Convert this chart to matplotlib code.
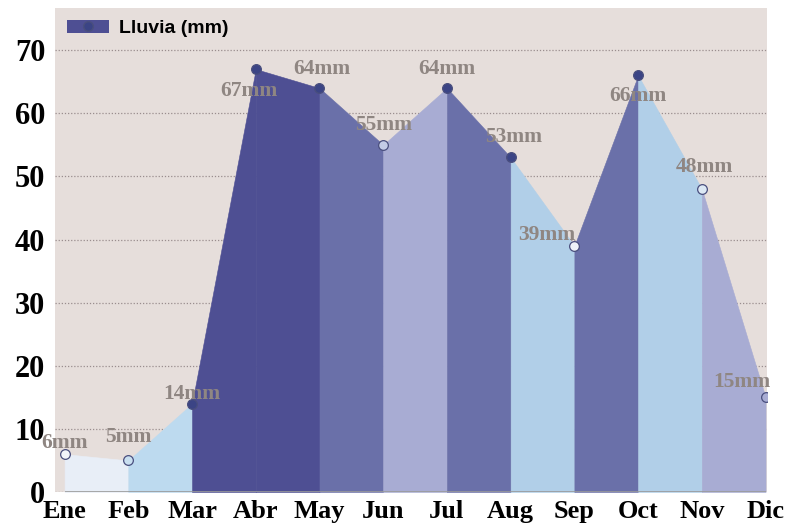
import matplotlib.pyplot as plt
from matplotlib.patches import Patch
from matplotlib.lines import Line2D

# Datos de lluvia mensual
meses = ["Ene", "Feb", "Mar", "Abr", "May", "Jun", "Jul", "Aug", "Sep", "Oct", "Nov", "Dic"]
lluvia = [6, 5, 14, 67, 64, 55, 64, 53, 39, 66, 48, 15]
etiquetas = [f"{v}mm" for v in lluvia]

# Colores de cada tramo (entre un mes y el siguiente)
c_osc = "#4e4f93"
c_med = "#6a70a9"
c_lav = "#a8acd3"
c_cel = "#b1cfe8"
colores_tramo = ["#e8eef7", "#bddaef", c_osc, c_osc, c_med, c_lav,
                 c_med, c_cel, c_med, c_cel, c_lav]
# Relleno de los marcadores
colores_punto = ["#f2f4fa", "#c9dff0", "#3b4485", "#3b4485", "#3b4485", "#c3cbe6",
                 "#3b4485", "#3b4485", "#eef2f8", "#3b4485", "#dce8f4", "#a8acd3"]
# Desplazamiento de etiquetas (puntos)
offsets = [(0, 8), (0, 17), (0, 7), (-5, -16), (2, 14), (0, 14),
           (0, 14), (2, 15), (-20, 8), (0, -15), (2, 16), (-17, 11)]

fig = plt.figure(figsize=(7.93, 5.25), dpi=100)
ax = fig.add_axes([0.0694, 0.0629, 0.8976, 0.9221])
ax.set_facecolor("#e6dedb")

x = list(range(len(meses)))

for i in range(len(meses) - 1):
    ax.fill_between(x[i:i + 2], lluvia[i:i + 2], 0, facecolor=colores_tramo[i],
                    edgecolor=colores_tramo[i], lw=0.4, zorder=2)

for i in x:
    ax.plot(x[i], lluvia[i], "o", ms=7, mfc=colores_punto[i], mec="#4a4f7e", mew=0.9, zorder=4)
    ax.annotate(etiquetas[i], (x[i], lluvia[i]), xytext=offsets[i], textcoords="offset points",
                ha="center", va="center", fontsize=15.5, fontweight="bold",
                family="Liberation Serif", color="#8f8682", zorder=5)

ax.hlines(0, x[0], x[-1], color="#9a9a9a", lw=1.2, zorder=3)

ax.set_xlim(-0.15, 11.02)
ax.set_ylim(0, 76.7)
ax.set_yticks(range(0, 71, 10))
ax.set_xticks(x)
ax.set_xticklabels(meses)
ax.grid(axis="y", linestyle=(0, (1, 1.5)), color="#9a8e8e", lw=0.9, zorder=1)
ax.grid(axis="x", visible=False)
for s in ax.spines.values():
    s.set_visible(False)
ax.tick_params(length=0)
ax.tick_params(axis="y", pad=7)
ax.tick_params(axis="x", pad=6)
for t in ax.get_yticklabels():
    t.set_fontfamily("Liberation Serif")
    t.set_fontweight("bold")
    t.set_fontsize(22)
for t in ax.get_xticklabels():
    t.set_fontfamily("Liberation Serif")
    t.set_fontweight("bold")
    t.set_fontsize(19)

h = (Patch(facecolor=c_osc, edgecolor="none"),
     Line2D([], [], marker="o", ls="none", ms=7, mfc="#3b4485", mec="#4a4f7e"))
ax.legend([h], ["Lluvia (mm)"], loc="upper left", frameon=False,
          prop={"family": "Liberation Sans", "weight": "bold", "size": 14},
          handlelength=2.2, handletextpad=0.5, borderaxespad=0.3, borderpad=0.3)

fig.savefig("out.png", dpi=100)
